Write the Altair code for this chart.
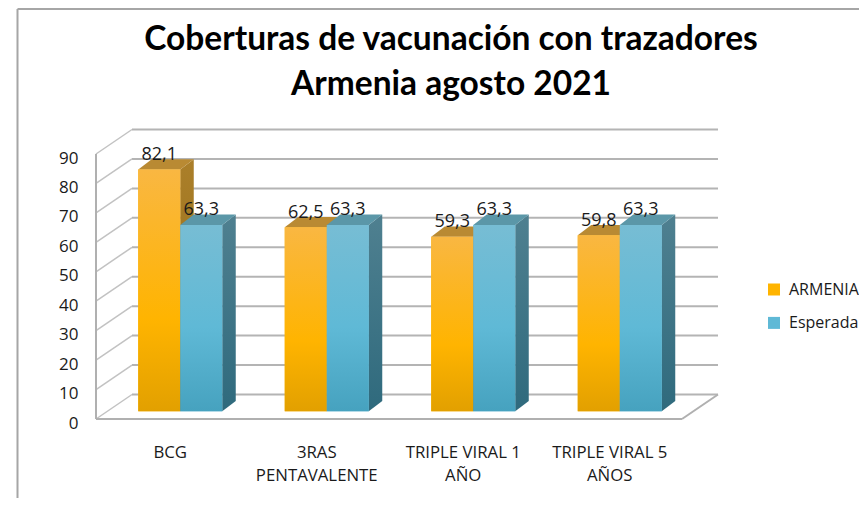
import altair as alt
import pandas as pd

CATEGORIES = ["BCG", "3RAS|PENTAVALENTE", "TRIPLE VIRAL 1|AÑO", "TRIPLE VIRAL 5|AÑOS"]
ARMENIA = [82.1, 62.5, 59.3, 59.8]
ESPERADA = [63.3, 63.3, 63.3, 63.3]
TICKS = [0, 10, 20, 30, 40, 50, 60, 70, 80, 90]
SERIES = ["ARMENIA", "Esperada"]

W, H = 586, 265
PX = 4 / W          # category units per pixel
PY = 90 / H         # value units per pixel
WALL_DX, WALL_DY = 36 * PX, 24.5 * PY
BAR_DX, BAR_DY = 11 * PX, 7.7 * PY
BAR_W = 42 * PX
SIDE_DX, SIDE_DY = 13.5 * PX, 10.3 * PY
LABEL_DY = 14.5 * PY

xs = alt.Scale(domain=[0, 4], nice=False, zero=False)
ys = alt.Scale(domain=[0, 90], nice=False)
XAXIS = alt.Axis(
    values=[i + 0.5 for i in range(len(CATEGORIES))],
    labelExpr="split(" + str(CATEGORIES) + "[datum.value - 0.5], '|')",
    domain=False, ticks=False, grid=False, labelAngle=0,
    labelFont="Open Sans", labelFontSize=16.8, labelColor="#1a1a1a",
    labelPadding=25, labelOffset=0.5, labelLineHeight=23,
    labelLimit=0, labelOverlap=False, labelBound=False, labelFlush=False,
    title=None,
)
YAXIS = alt.Axis(
    values=TICKS, domain=False, ticks=False, grid=False,
    labelFont="Open Sans", labelFontSize=17, labelColor="#1a1a1a",
    labelPadding=18, labelOffset=4, labelOverlap=False, labelBound=False,
    title=None,
)
X = lambda f="x", **k: alt.X(f"{f}:Q", scale=xs, axis=XAXIS, **k)
Y = lambda f="y", **k: alt.Y(f"{f}:Q", scale=ys, axis=YAXIS, **k)


def grad(*stops):
    return alt.LinearGradient(
        gradient="linear", x1=0, x2=0, y1=0, y2=1,
        stops=[alt.GradientStop(offset=o, color=c) for o, c in stops],
    )


def rules(rows, color, width):
    df = pd.DataFrame(rows, columns=["x", "x2", "y", "y2"])
    return alt.Chart(df).mark_rule(color=color, strokeWidth=width).encode(
        x=X(), x2="x2:Q", y=Y(), y2="y2:Q"
    )


# frame of the picture
frame = alt.Chart(pd.DataFrame({"a": [0]})).mark_rule(color="#a6a6a6", strokeWidth=2).encode(
    x=alt.value(-78.5), y=alt.value(-145), y2=alt.value(344)
)
frame_top = alt.Chart(pd.DataFrame({"a": [0]})).mark_rule(color="#a6a6a6", strokeWidth=2).encode(
    x=alt.value(-78.5), x2=alt.value(763), y=alt.value(-145)
)

# walls and floor
back = rules([[WALL_DX, 4 + WALL_DX, t + WALL_DY, t + WALL_DY] for t in TICKS], "#b4b4b4", 2)
side_wall = rules([[0, WALL_DX, t, t + WALL_DY] for t in TICKS], "#c2c2c2", 1.5)
floor = rules(
    [[0, 4, 0, 0], [4, 4 + WALL_DX, 0, WALL_DY], [0, 0, 0, 90]],
    "#b0b0b0", 2,
)

STYLE = {
    "ARMENIA": dict(
        front=grad((0, "#f9b742"), (0.62, "#ffb400"), (1, "#e2a000")),
        side=grad((0, "#ab7f2a"), (1, "#8f6a10")),
        top="#b98a33",
    ),
    "Esperada": dict(
        front=grad((0, "#77bdd4"), (0.55, "#5fb9d6"), (1, "#46a2bf")),
        side=grad((0, "#4f8090"), (1, "#2f6a7d")),
        top="#5b97a8",
    ),
}

rows = []
for i, (a, e) in enumerate(zip(ARMENIA, ESPERADA)):
    for j, (name, v) in enumerate(zip(SERIES, (a, e))):
        x0 = i + 0.5 + BAR_DX + (j - 1) * BAR_W
        rows.append(dict(id=f"{i}-{j}", series=name, value=v, x0=x0, x1=x0 + BAR_W,
                         base=BAR_DY, top=v + BAR_DY,
                         label=f"{v:.1f}".replace(".", ",")))
bars = pd.DataFrame(rows)

# flat bars underneath carry the colour legend
legend_bars = alt.Chart(bars).mark_rect().encode(
    x=X("x0"), x2="x1:Q", y=Y("base"), y2="top:Q",
    color=alt.Color(
        "series:N", title=None,
        scale=alt.Scale(domain=SERIES, range=["#ffb400", "#5fb9d6"]),
        legend=alt.Legend(
            orient="none", legendX=670, legendY=127.5, symbolType="square",
            symbolSize=144, symbolStrokeWidth=0, labelFont="Open Sans",
            labelFontSize=16, labelColor="#1a1a1a", labelOffset=7,
            rowPadding=17.4, labelLimit=0,
        ),
    ),
)

layers = [back, side_wall, floor, legend_bars]
for name in SERIES:
    s = STYLE[name]
    b = bars[bars.series == name]
    side = pd.DataFrame(
        [dict(id=r.id, x=r.x1, y=r.base, y2=r.top) for r in b.itertuples()]
        + [dict(id=r.id, x=r.x1 + SIDE_DX, y=r.base + SIDE_DY, y2=r.top + SIDE_DY) for r in b.itertuples()]
    )
    topf = pd.DataFrame(
        [dict(id=r.id, y=r.top, x=r.x0, x2=r.x1) for r in b.itertuples()]
        + [dict(id=r.id, y=r.top + SIDE_DY, x=r.x0 + SIDE_DX, x2=r.x1 + SIDE_DX) for r in b.itertuples()]
    )
    layers.append(alt.Chart(side).mark_area(color=s["side"], orient="vertical").encode(
        x=X(), y=Y(stack=None), y2="y2:Q", detail="id:N"))
    layers.append(alt.Chart(topf).mark_area(color=s["top"], orient="horizontal").encode(
        y=Y(), x=X(stack=None), x2="x2:Q", detail="id:N"))
    layers.append(alt.Chart(b).mark_rect(color=s["front"]).encode(
        x=X("x0"), x2="x1:Q", y=Y("base"), y2="top:Q"))

lab = bars.assign(xc=(bars.x0 + bars.x1) / 2, yl=bars.top + LABEL_DY)
layers.append(alt.Chart(lab).mark_text(
    font="Open Sans", fontSize=18, color="#1a1a1a", baseline="middle", align="center"
).encode(x=X("xc"), y=Y("yl"), text="label:N"))
layers += [frame, frame_top]

chart = alt.layer(*layers).properties(
    width=W, height=H,
    padding={"left": 88, "top": 146, "right": 177, "bottom": 79},
    autosize=alt.AutoSizeParams(type="none"),
    background="white",
    title=alt.TitleParams(
        text=["Coberturas de vacunación con trazadores", "Armenia agosto 2021"],
        font="Lato", fontSize=33.5, fontWeight="bold", color="#000000",
        lineHeight=45, anchor="middle", dx=62, offset=-94,
    ),
).configure_view(stroke=None)

chart.save("out.html", embed_options={"renderer": "svg", "actions": False})
